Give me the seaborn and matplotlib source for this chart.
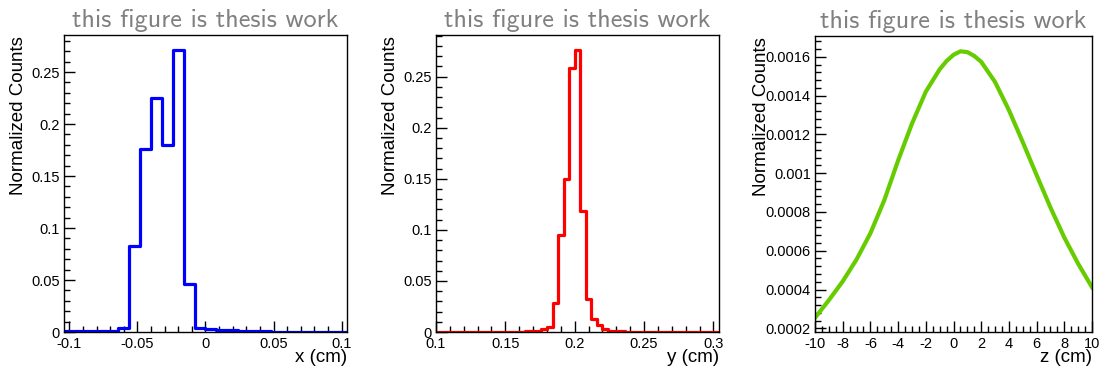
import os
import pandas as pd
import matplotlib
matplotlib.use("Agg")
import matplotlib.pyplot as plt
from matplotlib import font_manager as fm
from matplotlib.ticker import MultipleLocator, FuncFormatter
import seaborn as sns

# ---------------- data ----------------
title_text = "this figure is thesis work"
ylabel_text = "Normalized Counts"

# x histogram: 26 bins of 0.008 cm from -0.104 to 0.104
x_edges = [round(-0.104 + 0.008 * i, 4) for i in range(27)]
x_counts = [0.0005, 0.0005, 0.0007, 0.0010, 0.0012, 0.0040, 0.0830, 0.1760,
            0.2250, 0.1800, 0.2715, 0.0460, 0.0040, 0.0025, 0.0020, 0.0015,
            0.0010, 0.0008, 0.0006, 0.0004, 0.0003, 0.0002, 0.0002, 0.0001,
            0.0001, 0.0001]

# y histogram: 51 bins of 0.004 cm from 0.100 to 0.304
y_edges = [round(0.100 + 0.004 * i, 4) for i in range(52)]
y_counts = [0.0, 0.0, 0.0, 0.0, 0.0, 0.0, 0.0, 0.0, 0.0, 0.0,
            0.0, 0.0, 0.0001, 0.0001, 0.0002, 0.0003, 0.0005, 0.0008, 0.0012, 0.0030,
            0.0050, 0.0280, 0.0950, 0.1500, 0.2580, 0.2760, 0.1180, 0.0320, 0.0124, 0.0069,
            0.0025, 0.0012, 0.0008, 0.0005, 0.0003, 0.0002, 0.0001, 0.0001, 0.0, 0.0,
            0.0, 0.0, 0.0, 0.0, 0.0, 0.0, 0.0, 0.0, 0.0, 0.0, 0.0]

# z distribution (smooth curve)
z_pos = [-10, -9, -8, -7, -6, -5, -4, -3, -2, -1, -0.5, 0, 0.5, 1, 1.5,
         2, 3, 4, 5, 6, 7, 8, 9, 10]
z_vals = [0.000254, 0.000345, 0.000442, 0.000555, 0.000690, 0.000860, 0.001065,
          0.001255, 0.001420, 0.001535, 0.001578, 0.001610, 0.001628, 0.001624,
          0.001604, 0.001574, 0.001470, 0.001325, 0.001160, 0.000990, 0.000823,
          0.000668, 0.000533, 0.000412]

# ---------------- style ----------------
cmss = os.path.join(matplotlib.get_data_path(), "fonts", "ttf", "cmss10.ttf")
title_family = ["Lato", "DejaVu Sans"]
if os.path.exists(cmss):
    fm.fontManager.addfont(cmss)
    title_family = [fm.FontProperties(fname=cmss).get_name(), "DejaVu Sans"]

plt.rcParams["font.family"] = ["Liberation Sans", "DejaVu Sans"]
plt.rcParams["axes.linewidth"] = 1.0

fig = plt.figure(figsize=(10.99, 3.67), dpi=100)
W, H = 1099.0, 367.0


def make_ax(left, right, top, bottom):
    return fig.add_axes([left / W, 1 - bottom / H, (right - left) / W, (bottom - top) / H])


def fmt(v, pos):
    v = round(v, 8) + 0.0
    return f"{v:g}"


def style(ax, xmaj, xmin, ymaj, ymin, xlabel, ylab_x):
    ax.xaxis.set_major_locator(MultipleLocator(xmaj))
    ax.xaxis.set_minor_locator(MultipleLocator(xmin))
    ax.yaxis.set_major_locator(MultipleLocator(ymaj))
    ax.yaxis.set_minor_locator(MultipleLocator(ymin))
    ax.xaxis.set_major_formatter(FuncFormatter(fmt))
    ax.yaxis.set_major_formatter(FuncFormatter(fmt))
    ax.tick_params(which="both", direction="in", top=False, right=False,
                   width=1.0, colors="black", labelsize=10.5)
    ax.tick_params(which="major", length=8, pad=3)
    ax.tick_params(axis="x", which="major", pad=3.6)
    ax.tick_params(which="minor", length=4)
    for s in ax.spines.values():
        s.set_color("black")
        s.set_linewidth(1.0)
    ax.set_xlabel(xlabel, loc="right", fontsize=13.5)
    ax.xaxis.set_label_coords(1.0, -0.058)
    ax.set_ylabel(ylabel_text, loc="top", fontsize=13.5)
    ax.yaxis.set_label_coords(ylab_x, 0.995)
    ax.set_title(title_text, family=title_family, fontsize=18.9, color="#808080", pad=5.5)
    ax.set_facecolor("white")


# panel 1: x
ax1 = make_ax(64, 347, 35, 332)
dfx = pd.DataFrame({"x": [(a + b) / 2 for a, b in zip(x_edges[:-1], x_edges[1:])], "w": x_counts})
sns.histplot(data=dfx, x="x", weights="w", bins=x_edges, element="step", fill=False,
             color="#0000ff", linewidth=2.3, ax=ax1)
ax1.set_xlim(-0.104, 0.104)
ax1.set_ylim(0, 0.2856)
style(ax1, 0.05, 0.01, 0.05, 0.01, "x (cm)", -0.130)

# panel 2: y
ax2 = make_ax(436, 719, 35, 332)
dfy = pd.DataFrame({"y": [(a + b) / 2 for a, b in zip(y_edges[:-1], y_edges[1:])], "w": y_counts})
sns.histplot(data=dfy, x="y", weights="w", bins=y_edges, element="step", fill=False,
             color="#ff0000", linewidth=2.3, ax=ax2)
ax2.set_xlim(0.1, 0.304)
ax2.set_ylim(0, 0.2908)
style(ax2, 0.05, 0.01, 0.05, 0.01, "y (cm)", -0.131)

# panel 3: z
ax3 = make_ax(815, 1092, 36, 332)
dfz = pd.DataFrame({"z": z_pos, "v": z_vals})
sns.lineplot(data=dfz, x="z", y="v", color="#66cc00", linewidth=3.0, ax=ax3)
ax3.set_xlim(-10, 10)
ax3.set_ylim(0.000181, 0.001707)
style(ax3, 2, 0.5, 0.0002, 0.00004, "z (cm)", -0.162)

fig.savefig("out.png", dpi=100, facecolor="white")
